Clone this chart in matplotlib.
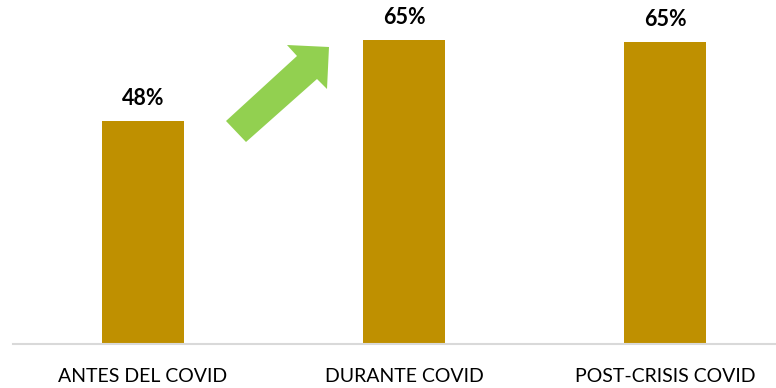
import matplotlib
matplotlib.use("Agg")
import matplotlib.pyplot as plt
from matplotlib.patches import Polygon

categories = ["ANTES DEL COVID", "DURANTE COVID", "POST-CRISIS COVID"]
values = [48.0, 65.5, 65.0]
labels = ["48%", "65%", "65%"]

W, H = 776, 388
fig = plt.figure(figsize=(W / 100, H / 100), dpi=100)
left = 13 / W
bottom = 1 - 344 / H
ax = fig.add_axes([left, bottom, 1 - left, 1 - bottom])

x = list(range(len(categories)))
ax.bar(x, values, width=0.314, color="#BF9000", zorder=2)
ax.set_xlim(-0.498, 2.425)
ax.set_ylim(0, 74)

for xi, v, lab in zip(x, values, labels):
    ax.annotate(lab, (xi, v), xytext=(0, 12), textcoords="offset pixels",
                ha="center", va="bottom", fontsize=15.5, fontweight="bold",
                family="Lato", color="black")

ax.set_xticks(x)
ax.set_xticklabels(categories, fontsize=14, family="Lato", color="black")
ax.tick_params(axis="x", length=0, pad=17)
ax.set_yticks([])
for s in ["top", "left", "right"]:
    ax.spines[s].set_visible(False)
ax.spines["bottom"].set_color("#D9D9D9")
ax.spines["bottom"].set_linewidth(1.5)

# decorative green arrow (pixel coordinates, top-left origin)
arrow_px = [(226, 121), (297, 56), (287, 45), (329, 47), (327, 89), (317, 79), (246, 142)]
pts = [(px / W, 1 - py / H) for px, py in arrow_px]
fig.patches.append(Polygon(pts, closed=True, transform=fig.transFigure,
                           facecolor="#92D050", edgecolor="none"))

fig.savefig("out.png", dpi=100)
